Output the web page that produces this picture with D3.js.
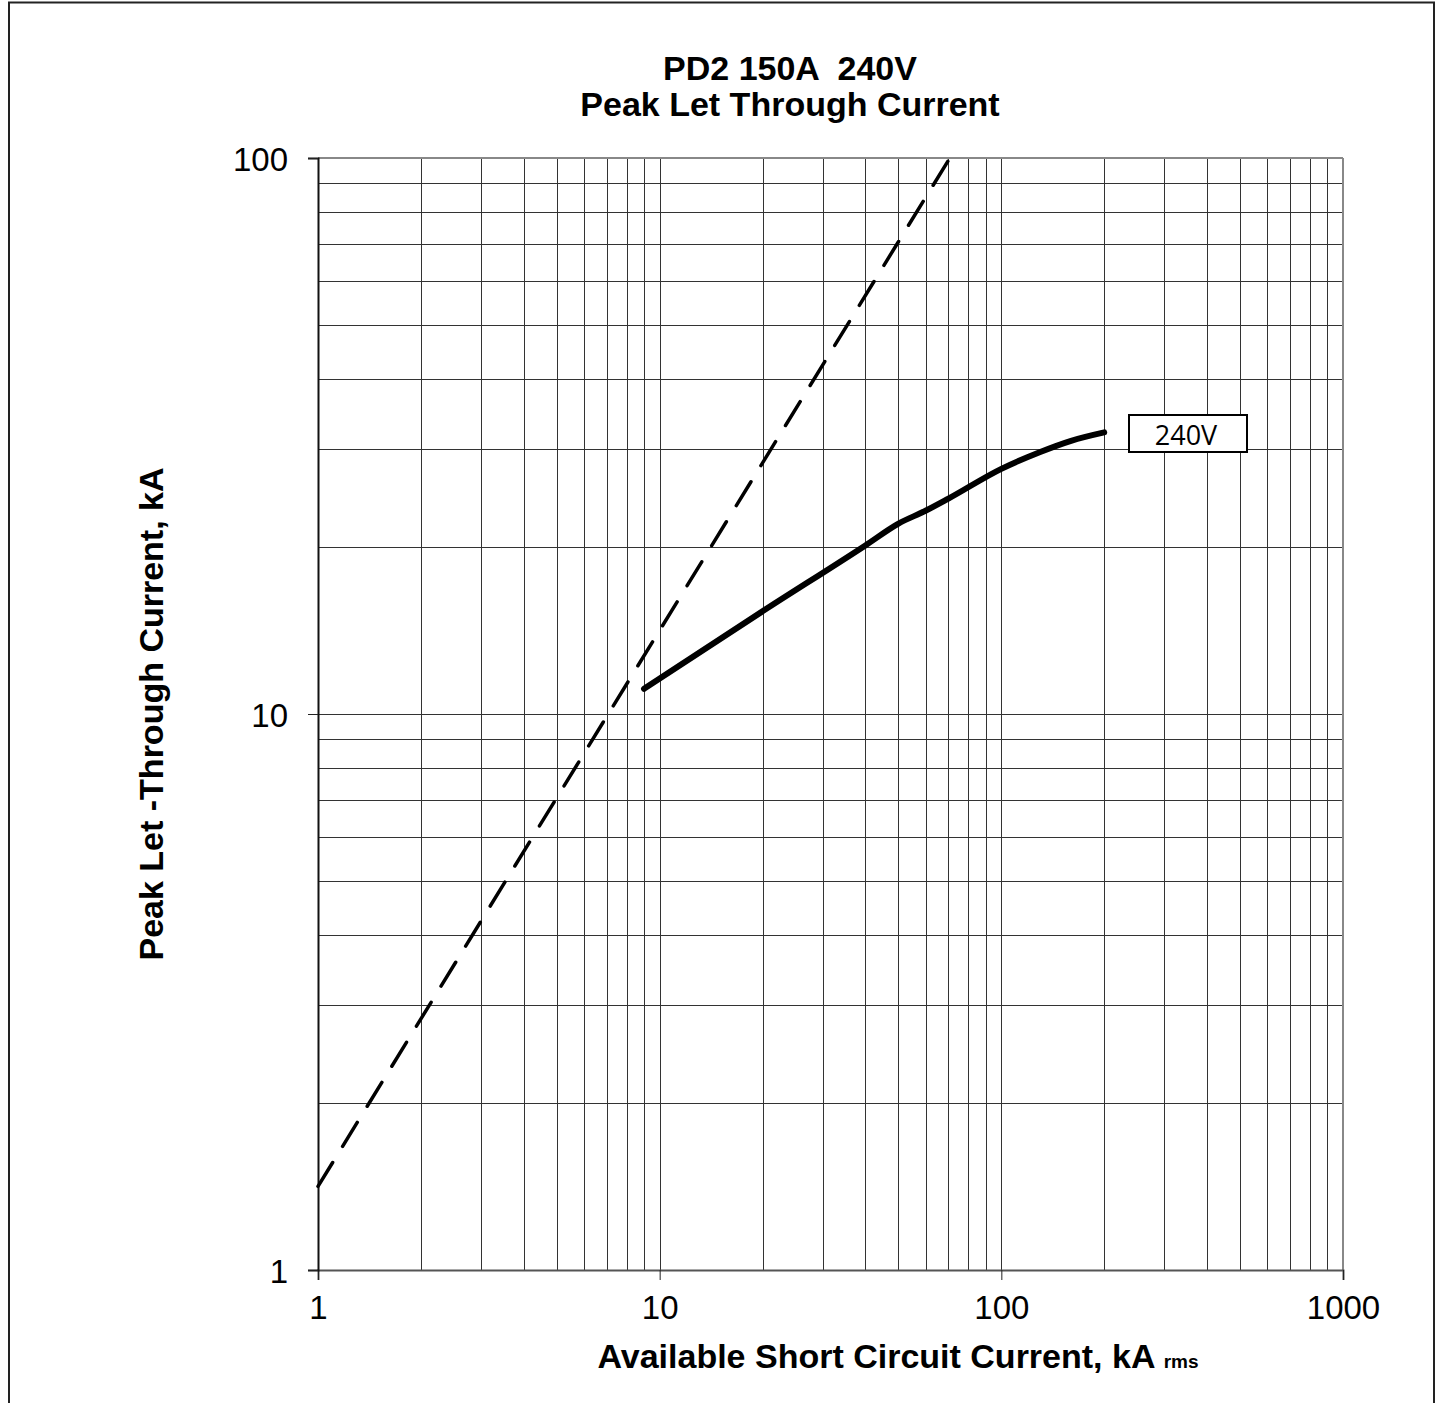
<!DOCTYPE html>
<html>
<head>
<meta charset="utf-8">
<script src="https://cdn.jsdelivr.net/npm/d3@7"></script>
<style>
  body { margin: 0; background: #fff; }
  text { font-family: "Liberation Sans", Arial, sans-serif; }
</style>
</head>
<body>
<script>
//Data
var xTicks = [1, 10, 100, 1000];
var yTicks = [1, 10, 100];
var titleLines = ["PD2 150A  240V", "Peak Let Through Current"];

//Dashed reference line (peak = sqrt(2) x rms)
var refCurrent = [1, 70.7];
var refPeak = [1.414, 100];

//240V let-through curve
var availCurrent = [9, 20, 40, 50, 60, 70, 100, 130, 160, 200];
var peakCurrent = [11.1, 15.3, 20.1, 22.0, 23.2, 24.4, 27.6, 29.6, 31.0, 32.1];
var curveLabel = "240V";

//Width and height
var w = 1439;
var h = 1403;
var pLeft = 318, pRight = 1343, pTop = 158, pBottom = 1270;

var svg = d3.select("body")
            .append("svg")
            .attr("width", w)
            .attr("height", h);

//Outer frame
svg.append("rect")
   .attr("x", 9).attr("y", 2.5)
   .attr("width", 1425).attr("height", 1420)
   .attr("fill", "white")
   .attr("stroke", "#222")
   .attr("stroke-width", 2);

//Scales
var x = d3.scaleLog().domain([1, 1000]).range([pLeft, pRight]);
var y = d3.scaleLog().domain([1, 100]).range([pBottom, pTop]);

//Grid lines for every minor step
var xGrid = [];
for (var d = 1; d < 1000; d *= 10) {
    for (var k = 1; k <= 9; k++) xGrid.push(d * k);
}
xGrid.push(1000);
var yGrid = [];
for (var d2 = 1; d2 < 100; d2 *= 10) {
    for (var k2 = 1; k2 <= 9; k2++) yGrid.push(d2 * k2);
}
yGrid.push(100);

svg.append("g")
   .selectAll("line")
   .data(xGrid)
   .enter()
   .append("line")
   .attr("x1", (d) => Math.round(x(d)) + 0.5)
   .attr("x2", (d) => Math.round(x(d)) + 0.5)
   .attr("y1", pTop)
   .attr("y2", pBottom)
   .attr("stroke", "#333")
   .attr("stroke-width", 1);

svg.append("g")
   .selectAll("line")
   .data(yGrid)
   .enter()
   .append("line")
   .attr("x1", pLeft)
   .attr("x2", pRight)
   .attr("y1", (d) => Math.round(y(d)) + 0.5)
   .attr("y2", (d) => Math.round(y(d)) + 0.5)
   .attr("stroke", "#333")
   .attr("stroke-width", 1);

//Plot border (top / right gray)
svg.append("line")
   .attr("x1", pLeft).attr("x2", pRight)
   .attr("y1", pTop).attr("y2", pTop)
   .attr("stroke", "#888").attr("stroke-width", 2);
svg.append("line")
   .attr("x1", pRight).attr("x2", pRight)
   .attr("y1", pTop).attr("y2", pBottom)
   .attr("stroke", "#888").attr("stroke-width", 2);

//Axes
var xAxis = d3.axisBottom(x)
              .tickValues(xTicks)
              .tickFormat(d3.format("d"))
              .tickSize(10)
              .tickPadding(16);
var yAxis = d3.axisLeft(y)
              .tickValues(yTicks)
              .tickFormat(d3.format("d"))
              .tickSize(10)
              .tickPadding(20);

var gx = svg.append("g")
   .attr("transform", "translate(0," + pBottom + ")")
   .call(xAxis);
gx.select(".domain").attr("stroke", "#555").attr("stroke-width", 2);
gx.selectAll(".tick line").attr("stroke", "#222");
gx.selectAll("text")
  .attr("font-size", "33px")
  .attr("fill", "#000");

var gy = svg.append("g")
   .attr("transform", "translate(" + pLeft + ",0)")
   .call(yAxis);
gy.select(".domain").attr("stroke", "#111").attr("stroke-width", 2);
gy.selectAll(".tick line").attr("stroke", "#222");
gy.selectAll("text")
  .attr("font-size", "33px")
  .attr("dy", "0.38em")
  .attr("fill", "#000");

//Reference dashed line
var refLine = d3.line()
                .x((d) => x(d[0]))
                .y((d) => y(d[1]));
svg.append("path")
   .attr("d", refLine(d3.zip(refCurrent, refPeak)))
   .attr("fill", "none")
   .attr("stroke", "#000")
   .attr("stroke-width", 3.5)
   .attr("stroke-linecap", "round")
   .attr("stroke-dasharray", "28,19");

//240V curve
var curve = d3.line()
              .x((d) => x(d[0]))
              .y((d) => y(d[1]))
              .curve(d3.curveMonotoneX);
svg.append("path")
   .attr("d", curve(d3.zip(availCurrent, peakCurrent)))
   .attr("fill", "none")
   .attr("stroke", "#000")
   .attr("stroke-width", 6)
   .attr("stroke-linecap", "round")
   .attr("stroke-linejoin", "round");

//Curve label box
svg.append("rect")
   .attr("x", 1129).attr("y", 415)
   .attr("width", 118).attr("height", 37)
   .attr("fill", "white")
   .attr("stroke", "#000")
   .attr("stroke-width", 2);
svg.append("text")
   .attr("x", 1186).attr("y", 445)
   .attr("text-anchor", "middle")
   .style("font-family", "'Open Sans', sans-serif")
   .attr("font-size", "27px")
   .text(curveLabel);

//Title
svg.append("text")
   .attr("x", 790).attr("y", 80)
   .attr("text-anchor", "middle")
   .attr("font-size", "34px")
   .attr("font-weight", "bold")
   .selectAll("tspan")
   .data(titleLines)
   .enter()
   .append("tspan")
   .attr("x", 790)
   .attr("dy", (d, i) => i === 0 ? 0 : 36)
   .style("white-space", "pre")
   .text((d) => d);

//Axis titles
var xt = svg.append("text")
   .attr("x", 898).attr("y", 1368)
   .attr("text-anchor", "middle")
   .attr("font-size", "34px")
   .attr("font-weight", "bold");
xt.append("tspan").text("Available Short Circuit Current, kA ");
xt.append("tspan").attr("font-size", "19px").text("rms");

svg.append("text")
   .attr("transform", "translate(163,714) rotate(-90)")
   .attr("text-anchor", "middle")
   .attr("font-size", "34px")
   .attr("font-weight", "bold")
   .text("Peak Let -Through Current, kA");
</script>
</body>
</html>
